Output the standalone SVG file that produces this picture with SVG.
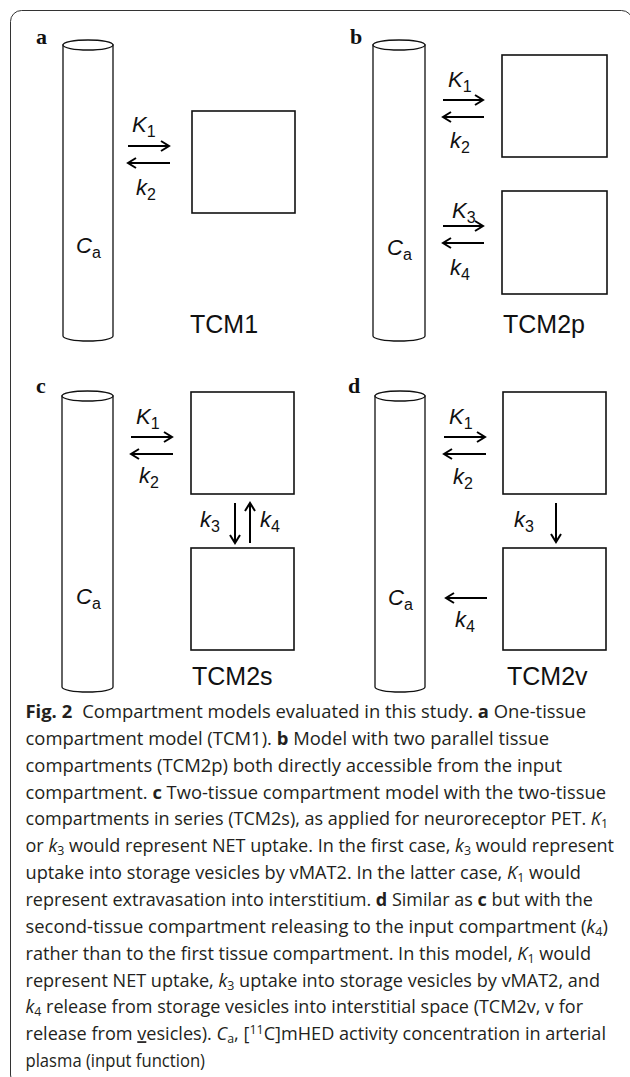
<svg xmlns="http://www.w3.org/2000/svg" width="630" height="1077" viewBox="0 0 630 1077">
<style>
.cyl{fill:#fff;stroke:#111;stroke-width:1.3}
.box{fill:#fff;stroke:#111;stroke-width:1.6}
.arr{stroke:#000;stroke-width:2;fill:none;marker-end:url(#ah)}
.lbl{font-family:"Liberation Sans",Arial,sans-serif;font-size:22px;font-style:italic;fill:#111}
.sub{font-style:normal;font-size:16px}
.tcm{font-family:"Liberation Sans",Arial,sans-serif;font-size:25px;fill:#111}
.pl{font-family:"Liberation Serif","Times New Roman",serif;font-size:22px;font-weight:bold;fill:#111}
.cap{font-family:"Open Sans","Noto Sans",sans-serif;font-size:17.5px;fill:#231f20}
.b{font-weight:bold}
.i{font-style:italic}
.s{font-size:12px}
</style>
<defs>
<marker id="ah" viewBox="-10 -7 12 14" refX="0" refY="0" markerWidth="12" markerHeight="14" markerUnits="userSpaceOnUse" orient="auto">
<path d="M-8,-5 L0,0 L-8,5" fill="none" stroke="#000" stroke-width="2"/>
</marker>
</defs>
<rect id="frame" x="10.5" y="10.5" width="622" height="1075.5" rx="11" fill="none" stroke="#333" stroke-width="1"/>

<g id="panel-a">
<text class="pl" x="36" y="43.5">a</text>
<g id="a-plasma">
<path class="cyl" d="M63,45 L63,336 A25,5 0 0 0 113,336 L113,45 Z"/>
<ellipse class="cyl" cx="88" cy="45" rx="25" ry="5"/>
<text class="lbl" x="76" y="253">C<tspan class="sub" dy="5">a</tspan></text>
</g>
<g id="a-tissue"><rect class="box" x="192" y="111" width="103" height="102"/></g>
<text class="tcm" x="190" y="333">TCM1</text>
</g>

<g id="panel-b">
<text class="pl" x="350" y="43.5">b</text>
<g id="b-plasma">
<path class="cyl" d="M373,45 L373,336 A26,5 0 0 0 425,336 L425,45 Z"/>
<ellipse class="cyl" cx="399" cy="45" rx="26" ry="5"/>
<text class="lbl" x="387" y="255">C<tspan class="sub" dy="5">a</tspan></text>
</g>
<g id="b-tissue1"><rect class="box" x="502" y="55" width="105" height="102"/></g>
<g id="b-tissue2"><rect class="box" x="502" y="191" width="105" height="103"/></g>
<text class="tcm" x="503" y="333">TCM2p</text>
</g>

<g id="panel-c">
<text class="pl" x="36" y="393">c</text>
<g id="c-plasma">
<path class="cyl" d="M62,396 L62,687 A25.5,5 0 0 0 113,687 L113,396 Z"/>
<ellipse class="cyl" cx="87.5" cy="396" rx="25.5" ry="5"/>
<text class="lbl" x="76" y="604">C<tspan class="sub" dy="5">a</tspan></text>
</g>
<g id="c-tissue1"><rect class="box" x="191" y="392" width="103" height="102"/></g>
<g id="c-tissue2"><rect class="box" x="191" y="548" width="103" height="102"/></g>
<text class="tcm" x="192" y="685">TCM2s</text>
</g>

<g id="panel-d">
<text class="pl" x="348" y="393">d</text>
<g id="d-plasma">
<path class="cyl" d="M375,396 L375,687 A25,5 0 0 0 425,687 L425,396 Z"/>
<ellipse class="cyl" cx="400" cy="396" rx="25" ry="5"/>
<text class="lbl" x="388" y="605">C<tspan class="sub" dy="5">a</tspan></text>
</g>
<g id="d-tissue1"><rect class="box" x="503" y="392" width="103" height="102"/></g>
<g id="d-tissue2"><rect class="box" x="503" y="548" width="103" height="102"/></g>
<text class="tcm" x="507" y="685">TCM2v</text>
</g>

<g id="connectors">
<line class="arr" x1="128" y1="146" x2="169" y2="146"/>
<line class="arr" x1="170" y1="163" x2="128" y2="163"/>
<line class="arr" x1="443" y1="100" x2="483" y2="100"/>
<line class="arr" x1="484" y1="117" x2="443" y2="117"/>
<line class="arr" x1="443" y1="226" x2="483" y2="226"/>
<line class="arr" x1="484" y1="243" x2="443" y2="243"/>
<line class="arr" x1="131" y1="437" x2="172" y2="437"/>
<line class="arr" x1="173" y1="454" x2="131" y2="454"/>
<line class="arr" x1="235" y1="503" x2="235" y2="543"/>
<line class="arr" x1="250" y1="543" x2="250" y2="503"/>
<line class="arr" x1="444" y1="437" x2="485" y2="437"/>
<line class="arr" x1="486" y1="454" x2="444" y2="454"/>
<line class="arr" x1="556" y1="503" x2="556" y2="542"/>
<line class="arr" x1="487" y1="598" x2="446" y2="598"/>
</g>

<g id="rate-labels">
<text class="lbl" x="132" y="132">K<tspan class="sub" dy="5">1</tspan></text>
<text class="lbl" x="136" y="195">k<tspan class="sub" dy="5">2</tspan></text>
<text class="lbl" x="448" y="87">K<tspan class="sub" dy="5">1</tspan></text>
<text class="lbl" x="450" y="148">k<tspan class="sub" dy="5">2</tspan></text>
<text class="lbl" x="452" y="218">K<tspan class="sub" dy="5">3</tspan></text>
<text class="lbl" x="450" y="275">k<tspan class="sub" dy="5">4</tspan></text>
<text class="lbl" x="136" y="424">K<tspan class="sub" dy="5">1</tspan></text>
<text class="lbl" x="139" y="483">k<tspan class="sub" dy="5">2</tspan></text>
<text class="lbl" x="200" y="527">k<tspan class="sub" dy="5">3</tspan></text>
<text class="lbl" x="260" y="527">k<tspan class="sub" dy="5">4</tspan></text>
<text class="lbl" x="449" y="424">K<tspan class="sub" dy="5">1</tspan></text>
<text class="lbl" x="453" y="484">k<tspan class="sub" dy="5">2</tspan></text>
<text class="lbl" x="514" y="527">k<tspan class="sub" dy="5">3</tspan></text>
<text class="lbl" x="455" y="627">k<tspan class="sub" dy="5">4</tspan></text>
</g>

<g id="caption" class="cap">
<text x="25.5" y="718" textLength="560.5" lengthAdjust="spacingAndGlyphs"><tspan class="b">Fig. 2</tspan><tspan dx="5"> Compartment models evaluated in this study. </tspan><tspan class="b">a</tspan> One-tissue</text>
<text x="25.5" y="744.85" textLength="523.5" lengthAdjust="spacingAndGlyphs">compartment model (TCM1). <tspan class="b">b</tspan> Model with two parallel tissue</text>
<text x="25.5" y="771.7" textLength="536.5" lengthAdjust="spacingAndGlyphs">compartments (TCM2p) both directly accessible from the input</text>
<text x="25.5" y="798.55" textLength="580.5" lengthAdjust="spacingAndGlyphs">compartment. <tspan class="b">c</tspan> Two-tissue compartment model with the two-tissue</text>
<text x="25.5" y="825.4" textLength="582.5" lengthAdjust="spacingAndGlyphs">compartments in series (TCM2s), as applied for neuroreceptor PET. <tspan class="i">K</tspan><tspan class="s" dy="3">1</tspan></text>
<text x="25.5" y="852.25" textLength="588.5" lengthAdjust="spacingAndGlyphs">or <tspan class="i">k</tspan><tspan class="s" dy="3">3</tspan><tspan dy="-3"> would represent NET uptake. In the first case, </tspan><tspan class="i">k</tspan><tspan class="s" dy="3">3</tspan><tspan dy="-3"> would represent</tspan></text>
<text x="25.5" y="879.1" textLength="555.5" lengthAdjust="spacingAndGlyphs">uptake into storage vesicles by vMAT2. In the latter case, <tspan class="i">K</tspan><tspan class="s" dy="3">1</tspan><tspan dy="-3"> would</tspan></text>
<text x="25.5" y="905.95" textLength="567.5" lengthAdjust="spacingAndGlyphs">represent extravasation into interstitium. <tspan class="b">d</tspan> Similar as <tspan class="b">c</tspan> but with the</text>
<text x="25.5" y="932.8" textLength="582.5" lengthAdjust="spacingAndGlyphs">second-tissue compartment releasing to the input compartment (<tspan class="i">k</tspan><tspan class="s" dy="3">4</tspan><tspan dy="-3">)</tspan></text>
<text x="25.5" y="959.65" textLength="565.5" lengthAdjust="spacingAndGlyphs">rather than to the first tissue compartment. In this model, <tspan class="i">K</tspan><tspan class="s" dy="3">1</tspan><tspan dy="-3"> would</tspan></text>
<text x="25.5" y="986.5" textLength="574.5" lengthAdjust="spacingAndGlyphs">represent NET uptake, <tspan class="i">k</tspan><tspan class="s" dy="3">3</tspan><tspan dy="-3"> uptake into storage vesicles by vMAT2, and</tspan></text>
<text x="25.5" y="1013.35" textLength="557.5" lengthAdjust="spacingAndGlyphs"><tspan class="i">k</tspan><tspan class="s" dy="3">4</tspan><tspan dy="-3"> release from storage vesicles into interstitial space (TCM2v, v for</tspan></text>
<text x="25.5" y="1040.2" textLength="580.5" lengthAdjust="spacingAndGlyphs">release from <tspan text-decoration="underline">v</tspan>esicles). <tspan class="i">C</tspan><tspan class="s" dy="3">a</tspan><tspan dy="-3">, [</tspan><tspan class="s" dy="-6">11</tspan><tspan dy="6">C]mHED activity concentration in arterial</tspan></text>
<text x="25.5" y="1067.05" textLength="179.5" lengthAdjust="spacingAndGlyphs">plasma (input function)</text>
</g>
</svg>
